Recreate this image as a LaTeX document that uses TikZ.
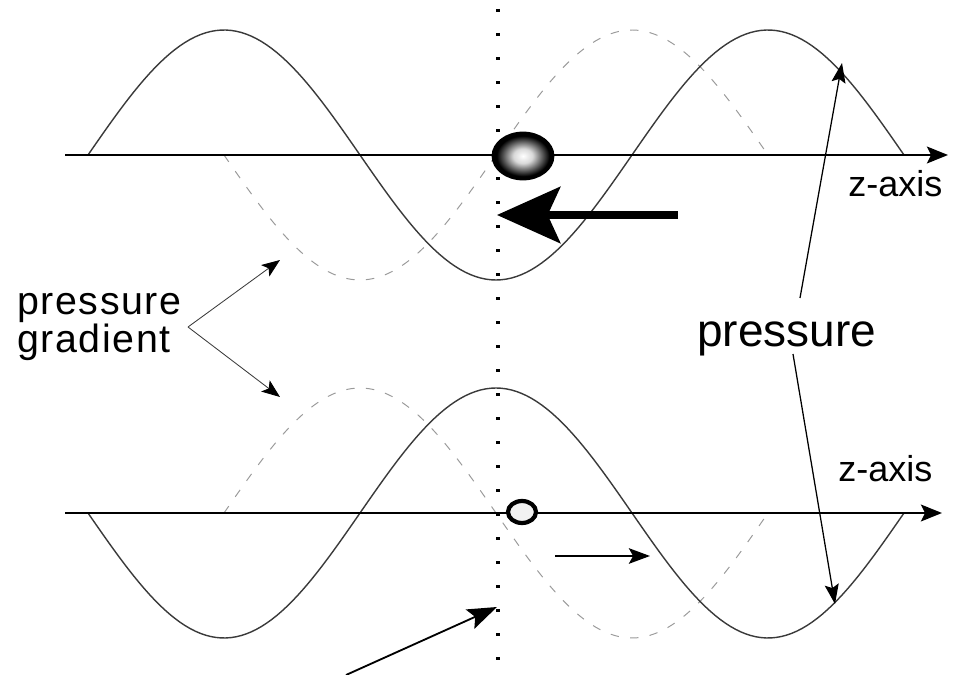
\documentclass[tikz,border=0pt]{standalone}
\usepackage{fontspec}
\setmainfont{Liberation Sans}
\usepackage{tikz}
\usetikzlibrary{arrows.meta}
\definecolor{wvdark}{HTML}{3A3A3A}
\definecolor{wvlight}{HTML}{9A9A9A}
\pgfdeclareradialshading{ballShade}{\pgfpoint{0bp}{0bp}}{color(0bp)=(white); color(8bp)=(white!85!black); color(17bp)=(black!70); color(22bp)=(black); color(50bp)=(black)}
\tikzset{
  axisLine/.style={line width=1.4pt, -{Stealth[length=15pt,width=12pt,inset=3pt]}},
  waveSolid/.style={line width=1pt, draw=wvdark},
  waveDashed/.style={line width=0.7pt, draw=wvlight, dash pattern=on 6pt off 8pt},
  tagArrow/.style={line width=0.9pt, -{Stealth[length=14pt,width=10pt,inset=2.5pt]}},
  gradArrow/.style={line width=0.6pt, draw=wvdark, -{Stealth[length=13pt,width=10pt,inset=3pt,color=black]}},
  tagLabel/.style={inner sep=0pt, font=\fontsize{25.6}{28}\selectfont}
}
\begin{document}
\begin{tikzpicture}[x=0.025cm,y=-0.025cm]
  \useasboundingbox (0,0) rectangle (968,675);
  \draw[line width=2.2pt, dash pattern=on 2.2pt off 14.87pt] (498,9) -- (498,675);
  % upper wave pair
  \draw[waveDashed] plot[domain=224:768, samples=121] ({\x},{155+125*sin((\x-224)/272*180)});
  \draw[waveSolid] plot[domain=88:904, samples=161] ({\x},{155-125*sin((\x-88)/272*180)});
  \coordinate (topStart) at (65,155);
  \coordinate (topEnd) at (948,155);
  \draw[axisLine] (topStart) -- (topEnd);
  % lower wave pair
  \draw[waveDashed] plot[domain=224:768, samples=121] ({\x},{513-125*sin((\x-224)/272*180)});
  \draw[waveSolid] plot[domain=88:904, samples=161] ({\x},{513+125*sin((\x-88)/272*180)});
  \coordinate (botStart) at (65,513);
  \coordinate (botEnd) at (942,513);
  \draw[axisLine] (botStart) -- (botEnd);
  % particles and their motion
  \coordinate (ball) at (523,156);
  \shadedraw[shading=ballShade, draw=black, line width=2pt] (ball) ellipse [x radius=30, y radius=23];
  \coordinate (bigTail) at (678,215);
  \coordinate (bigTip) at (497,215);
  \draw[line width=5pt, -{Stealth[length=45pt,width=40pt,inset=9pt]}] (bigTail) -- (bigTip);
  \coordinate (dot) at (522,512);
  \draw[line width=3pt, fill=gray!10] (dot) ellipse [x radius=14, y radius=11];
  \coordinate (smallTail) at (555,556);
  \coordinate (smallTip) at (650,556);
  \draw[line width=1.6pt, -{Stealth[length=15pt,width=11pt,inset=3pt]}] (smallTail) -- (smallTip);
  \coordinate (pointFoot) at (346,675);
  \coordinate (pointTip) at (497,607);
  \draw[line width=1.3pt, -{Stealth[length=21pt,width=15pt,inset=4pt]}] (pointFoot) -- (pointTip);
  % labels
  \node[tagLabel, anchor=base west] (zTop) at (848,197) {z-axis};
  \node[tagLabel, anchor=base west] (zBot) at (838,481) {z-axis};
  \node[inner sep=0pt, anchor=base west, font=\fontsize{32.7}{36}\selectfont] (pressLbl) at (697,347) {pressure};
  \node[inner sep=0pt, anchor=west, align=left, font=\fontsize{28}{27.7}\selectfont\addfontfeatures{LetterSpace=4}] (gradLbl) at (17,327) {pressure\\gradient};
  \coordinate (pressTopFoot) at (800,298);
  \coordinate (pressTopTip) at (842,63);
  \coordinate (pressBotFoot) at (793,354);
  \coordinate (pressBotTip) at (835,604);
  \draw[tagArrow] (pressTopFoot) -- (pressTopTip);
  \draw[tagArrow] (pressBotFoot) -- (pressBotTip);
  \coordinate (gradFork) at (188,327);
  \coordinate (gradUp) at (280,260);
  \coordinate (gradDown) at (280,397);
  \draw[gradArrow] (gradFork) -- (gradUp);
  \draw[gradArrow] (gradFork) -- (gradDown);
\end{tikzpicture}
\end{document}
